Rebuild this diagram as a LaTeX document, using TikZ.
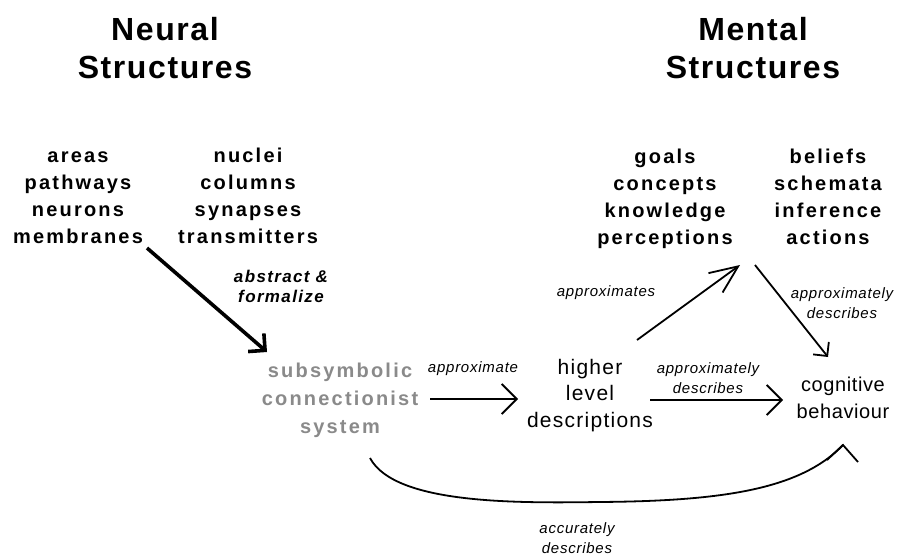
\documentclass[tikz,border=0pt]{standalone}
\usepackage{fontspec}
\setmainfont{Liberation Sans}
\newfontfamily\titlefam[LetterSpace=5]{Liberation Sans}
\newfontfamily\wordfam[LetterSpace=11]{Liberation Sans}
\newfontfamily\absfam[LetterSpace=8]{Liberation Sans}
\newfontfamily\grayfam[LetterSpace=11]{Liberation Sans}
\newfontfamily\plainfam[LetterSpace=6]{Liberation Sans}
\newfontfamily\cogfam[LetterSpace=3]{Liberation Sans}
\newfontfamily\labelfam[LetterSpace=5]{Liberation Sans}
\usetikzlibrary{arrows.meta}
\definecolor{ghost}{RGB}{138,138,138}

\tikzset{
  txt/.style={align=center, anchor=base, inner sep=0pt},
  heading/.style={txt, font=\titlefam\bfseries\fontsize{32}{38}\selectfont},
  words/.style={txt, font=\wordfam\bfseries\fontsize{20}{26.7}\selectfont},
  faded/.style={txt, text=ghost, font=\grayfam\bfseries\fontsize{20}{28}\selectfont},
  plain/.style={txt, font=\plainfam\fontsize{21}{26.5}\selectfont},
  cogtext/.style={txt, font=\cogfam\fontsize{20}{27}\selectfont},
  lbl/.style={txt, font=\labelfam\itshape\fontsize{15}{20}\selectfont},
  boldlbl/.style={txt, font=\absfam\bfseries\itshape\fontsize{17}{20}\selectfont},
  barb/.style={-{Straight Barb[length=15pt,width=30pt]}, line width=1.8pt},
  heavy/.style={-{Straight Barb[length=12pt,width=24pt]}, line width=3.6pt},
}

\begin{document}
\begin{tikzpicture}[x=1pt, y=-1pt]
  \fill[white] (0,0) rectangle (900,557);
  \useasboundingbox (0,0) rectangle (900,557);

  % column headings (base anchor = baseline of the last line)
  \node[heading] (neural) at (165,78) {Neural\\Structures};
  \node[heading] (mental) at (753,78) {Mental\\Structures};

  % word lists
  \node[words] (brain) at (78,243) {areas\\pathways\\neurons\\membranes};
  \node[words] (cells) at (248,243) {nuclei\\columns\\synapses\\transmitters};
  \node[words] (goals) at (665,244) {goals\\concepts\\knowledge\\perceptions};
  \node[words] (beliefs) at (828,244) {beliefs\\schemata\\inference\\actions};

  % the three central descriptions
  \node[faded] (sub) at (340,433) {subsymbolic\\connectionist\\system};
  \node[plain] (hld) at (590,427) {higher\\level\\descriptions};
  \node[cogtext] (cog) at (843,418) {cognitive\\behaviour};

  % edge labels
  \node[boldlbl] (absl) at (281,302) {abstract \&\\formalize};
  \node[lbl] (apl) at (473,372) {approximate};
  \node[lbl] (apsl) at (606,296) {approximates};
  \node[lbl] (adl) at (708,393) {approximately\\describes};
  \node[lbl] (addl) at (842,318) {approximately\\describes};
  \node[lbl] (acl) at (577,553) {accurately\\describes};

  % connector end points
  \coordinate (absS) at (147,248);
  \coordinate (absE) at (267,352);
  \coordinate (apS) at (430,399);
  \coordinate (apE) at (518,399);
  \coordinate (apsS) at (637,340);
  \coordinate (apsE) at (740,265);
  \coordinate (adS) at (650,400);
  \coordinate (adE) at (783,400);
  \coordinate (addS) at (755,265);
  \coordinate (addE) at (828,357);
  \coordinate (acS) at (370,458);
  \coordinate (acM) at (600,502);
  \coordinate (acE) at (843,445);

  % connectors
  \draw[heavy] (absS) -- (absE);
  \draw[barb] (apS) -- (apE);
  \draw[-{Straight Barb[length=28pt,width=24pt]}, line width=1.8pt] (apsS) -- (apsE);
  \draw[barb] (adS) -- (adE);
  \draw[-{Straight Barb[length=10pt,width=20pt]}, line width=1.8pt] (addS) -- (addE);
  \draw[line width=1.8pt] (acS) .. controls (395,505) and (520,503) .. (acM)
        .. controls (720,501) and (800,490) .. (acE);
  \draw[line width=1.8pt] (acE) ++(-16,15) -- (acE) -- ++(15,17);
\end{tikzpicture}
\end{document}
